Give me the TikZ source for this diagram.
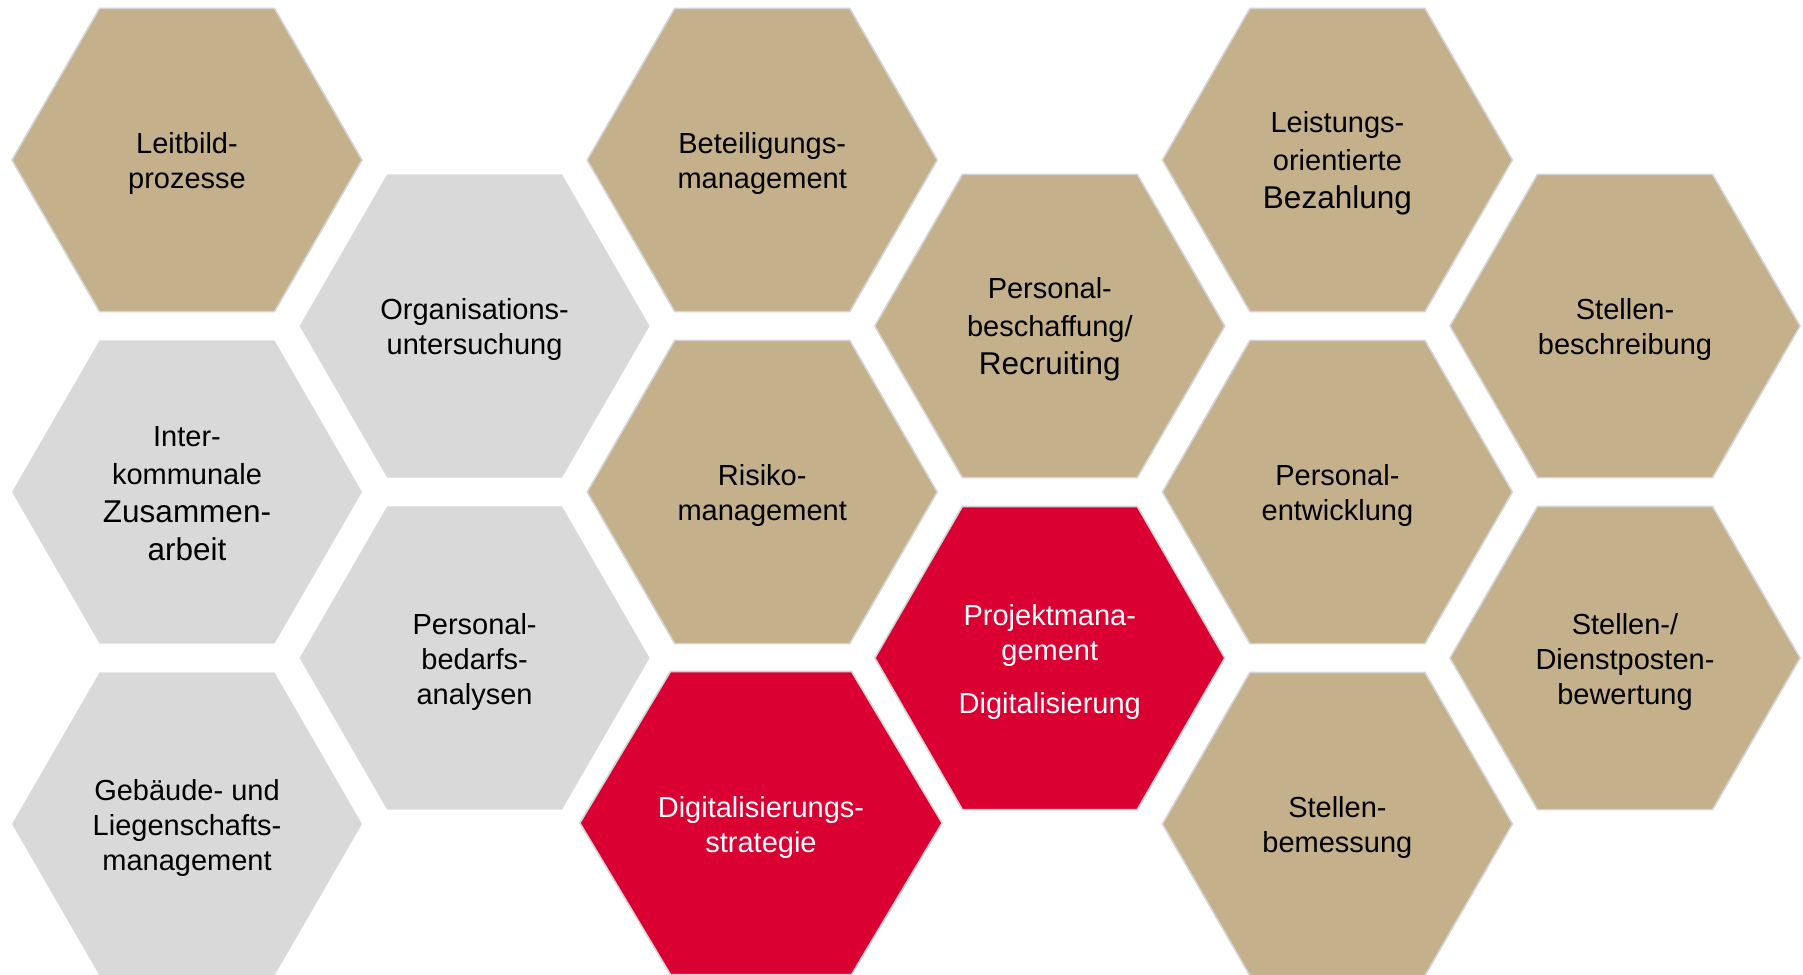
\documentclass[tikz,border=0pt]{standalone}
\usepackage{fontspec}
\setmainfont{Liberation Sans}
\usepackage{tikz}
\usetikzlibrary{shapes.geometric}

\definecolor{hextan}{RGB}{196,176,139}
\definecolor{hexgray}{RGB}{217,217,217}
\definecolor{hexred}{RGB}{219,0,50}
\definecolor{hexline}{RGB}{212,212,212}

\newcommand{\hexbig}{\fontsize{15.75pt}{19pt}\selectfont}

\tikzset{
  hexcell/.style={regular polygon, regular polygon sides=6, minimum size=175pt, inner sep=0pt},
  tanhex/.style={hexcell, fill=hextan, draw=hexline, line width=0.8pt},
  grayhex/.style={hexcell, fill=hexgray},
  redhex/.style={hexcell, fill=hexred, draw=hexline, line width=0.8pt},
  hextext/.style={align=center, inner sep=0pt, font=\fontsize{14.5pt}{17.5pt}\selectfont},
  darktext/.style={hextext, text=black},
  lighttext/.style={hextext, text=white},
  looserows/.style={font=\fontsize{14.5pt}{19pt}\selectfont}
}

\begin{document}
\begin{tikzpicture}[x=0.5pt, y=-0.5pt]
    \useasboundingbox (0,0) rectangle (1803,974);
    % first column
    \node[tanhex] (leitbild) at (187,160) {};
    \node[darktext] (leitbild-t) at ([yshift=-1.75pt]leitbild.center) {Leitbild-\\prozesse};
    \node[grayhex] (interkom) at (187,492) {};
    \node[darktext, looserows] (interkom-t) at ([yshift=-0.8pt]interkom.center) {Inter-\\kommunale\\{\hexbig Zusammen-}\\{\hexbig arbeit}};
    \node[grayhex] (gebaeude) at (187,824) {};
    \node[darktext] (gebaeude-t) at ([yshift=-1.75pt]gebaeude.center) {Geb\"aude- und\\Liegenschafts-\\management};
    % second column
    \node[grayhex] (orga) at (474.6,326) {};
    \node[darktext] (orga-t) at ([yshift=-1.75pt]orga.center) {Organisations-\\untersuchung};
    \node[grayhex] (bedarf) at (474.6,658) {};
    \node[darktext] (bedarf-t) at ([yshift=-1.75pt]bedarf.center) {Personal-\\bedarfs-\\analysen};
    % third column
    \node[tanhex] (beteil) at (762.2,160) {};
    \node[darktext] (beteil-t) at ([yshift=-1.75pt]beteil.center) {Beteiligungs-\\management};
    \node[tanhex] (risiko) at (762.2,492) {};
    \node[darktext] (risiko-t) at ([yshift=-1.75pt]risiko.center) {Risiko-\\management};
    \begin{scope}[shift={(761,823)}, xscale=1.035]
      \node[redhex, transform shape] (digistrat) at (0,0) {};
    \end{scope}
    \node[lighttext] (digistrat-t) at ([yshift=-2pt]digistrat.center) {Digitalisierungs-\\strategie};
    % fourth column
    \node[tanhex] (beschaff) at (1049.8,326) {};
    \node[darktext, looserows] (beschaff-t) at ([yshift=-1.75pt]beschaff.center) {Personal-\\beschaffung/\\{\hexbig Recruiting}};
    \node[redhex] (projekt) at (1049.8,658) {};
    \node[lighttext] (projekt-t) at ([yshift=-2pt]projekt.center) {Projektmana-\\gement\\[9pt]Digitalisierung};
    % fifth column
    \node[tanhex] (leistung) at (1337.4,160) {};
    \node[darktext, looserows] (leistung-t) at ([yshift=-1.5pt]leistung.center) {Leistungs-\\orientierte\\{\hexbig Bezahlung}};
    \node[tanhex] (entw) at (1337.4,492) {};
    \node[darktext] (entw-t) at ([yshift=-1.75pt]entw.center) {Personal-\\entwicklung};
    \node[tanhex] (bemess) at (1337.4,824) {};
    \node[darktext] (bemess-t) at ([yshift=-1.75pt]bemess.center) {Stellen-\\bemessung};
    % sixth column
    \node[tanhex] (beschreib) at (1625,326) {};
    \node[darktext] (beschreib-t) at ([yshift=-1.75pt]beschreib.center) {Stellen-\\beschreibung};
    \node[tanhex] (bewert) at (1625,658) {};
    \node[darktext] (bewert-t) at ([yshift=-1.75pt]bewert.center) {Stellen-/\\Dienstposten-\\bewertung};
\end{tikzpicture}
\end{document}
